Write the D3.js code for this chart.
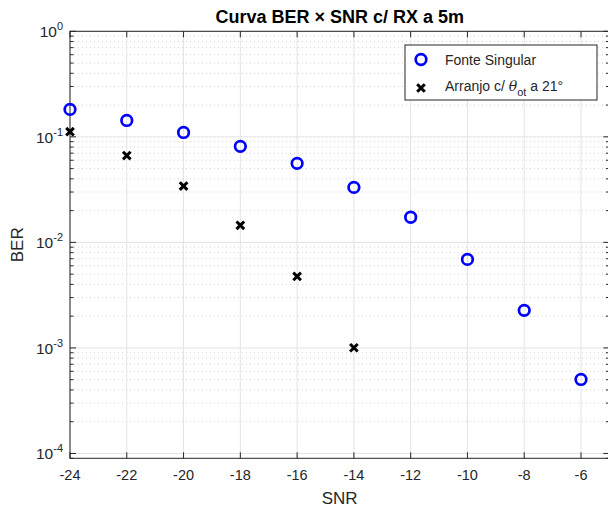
<!DOCTYPE html>
<html>
<head>
<meta charset="utf-8">
<script src="https://cdn.jsdelivr.net/npm/d3@7"></script>
<style>
  body { margin: 0; background: #fff; }
  text { font-family: "Liberation Sans", Arial, sans-serif; fill: #262626; }
</style>
</head>
<body>
<div id="chart"></div>
<script>
// dados
const snr = [-24, -22, -20, -18, -16, -14, -12, -10, -8, -6];
const berSingular = [0.182, 0.143, 0.110, 0.0813, 0.0561, 0.0332, 0.0173, 0.0069, 0.00227, 0.000503];
const snrArranjo = [-24, -22, -20, -18, -16, -14];
const berArranjo = [0.112, 0.0664, 0.0342, 0.0145, 0.00476, 0.001004];
const xTicks = [-24, -22, -20, -18, -16, -14, -12, -10, -8, -6];
const yTickExp = [0, -1, -2, -3, -4];

const width = 608, height = 511;
const mLeft = 70, mRight = 609.4, mTop = 31.3, mBottom = 458.3;

const svg = d3.select("#chart").append("svg")
  .attr("width", width).attr("height", height);

const x = d3.scaleLinear().domain([-24, -5]).range([mLeft, mRight]);
const y = d3.scaleLog().domain([9e-5, 1]).range([mBottom, mTop]);

// ticks menores do eixo log
const minor = [];
for (let e = -5; e < 0; e++) {
  for (let k = 2; k <= 9; k++) {
    const v = k * Math.pow(10, e);
    if (v >= 9e-5 && v <= 1) minor.push(v);
  }
}

const g = svg.append("g");

// grade menor (pontilhada)
g.selectAll(".minor").data(minor).enter().append("line")
  .attr("x1", mLeft).attr("x2", mRight)
  .attr("y1", d => y(d)).attr("y2", d => y(d))
  .attr("stroke", "#d2d2d2").attr("stroke-width", 1)
  .attr("stroke-dasharray", "1,3");

// grade principal
g.selectAll(".gx").data(xTicks).enter().append("line")
  .attr("x1", d => x(d)).attr("x2", d => x(d))
  .attr("y1", mTop).attr("y2", mBottom)
  .attr("stroke", "#e3e3e3").attr("stroke-width", 1);
g.selectAll(".gy").data(yTickExp).enter().append("line")
  .attr("x1", mLeft).attr("x2", mRight)
  .attr("y1", d => y(Math.pow(10, d))).attr("y2", d => y(Math.pow(10, d)))
  .attr("stroke", "#e3e3e3").attr("stroke-width", 1);

// moldura
const axColor = "#262626";
g.append("rect").attr("x", mLeft).attr("y", mTop)
  .attr("width", mRight - mLeft).attr("height", mBottom - mTop)
  .attr("fill", "none").attr("stroke", axColor).attr("stroke-width", 1);

// ticks x (baixo e cima, para dentro)
xTicks.forEach(t => {
  g.append("line").attr("x1", x(t)).attr("x2", x(t)).attr("y1", mBottom).attr("y2", mBottom - 6)
    .attr("stroke", axColor);
  g.append("line").attr("x1", x(t)).attr("x2", x(t)).attr("y1", mTop).attr("y2", mTop + 6)
    .attr("stroke", axColor);
});
// ticks y
yTickExp.forEach(e => {
  const yy = y(Math.pow(10, e));
  g.append("line").attr("x1", mLeft).attr("x2", mLeft + 6).attr("y1", yy).attr("y2", yy).attr("stroke", axColor);
  g.append("line").attr("x1", mRight).attr("x2", mRight - 6).attr("y1", yy).attr("y2", yy).attr("stroke", axColor);
});
minor.forEach(v => {
  const yy = y(v);
  g.append("line").attr("x1", mLeft).attr("x2", mLeft + 3.5).attr("y1", yy).attr("y2", yy).attr("stroke", axColor);
  g.append("line").attr("x1", mRight).attr("x2", mRight - 3.5).attr("y1", yy).attr("y2", yy).attr("stroke", axColor);
});

// rótulos dos ticks
svg.selectAll(".xl").data(xTicks).enter().append("text")
  .attr("x", d => x(d)).attr("y", mBottom + 22)
  .attr("text-anchor", "middle").attr("font-size", 14.5)
  .text(d => d);

const yl = svg.selectAll(".yl").data(yTickExp).enter().append("text")
  .attr("x", mLeft - 7).attr("y", d => y(Math.pow(10, d)) + 6)
  .attr("text-anchor", "end").attr("font-size", 15.5);
yl.append("tspan").text("10");
yl.append("tspan").attr("dy", -7).attr("font-size", 11).text(d => d === 0 ? "0" : "-" + (-d));

// títulos
svg.append("text").attr("x", (mLeft + mRight) / 2).attr("y", 23)
  .attr("text-anchor", "middle").attr("font-size", 18).attr("font-weight", "bold")
  .style("fill", "#000")
  .text("Curva BER \u00d7 SNR c/ RX a 5m");
svg.append("text").attr("x", (mLeft + mRight) / 2).attr("y", 504)
  .attr("text-anchor", "middle").attr("font-size", 17).text("SNR");
svg.append("text").attr("transform", `translate(23,${(mTop + mBottom) / 2}) rotate(-90)`)
  .attr("text-anchor", "middle").attr("font-size", 17).text("BER");

// marcadores
const cross = (sel, s) => sel.append("path")
  .attr("d", `M${-s},${-s}L${s},${s}M${-s},${s}L${s},${-s}`)
  .attr("stroke", "#000").attr("stroke-width", 3).attr("fill", "none");

svg.append("g").selectAll("circle").data(snr.map((s, i) => [s, berSingular[i]])).enter()
  .append("circle")
  .attr("cx", d => x(d[0])).attr("cy", d => y(d[1])).attr("r", 5.3)
  .attr("fill", "none").attr("stroke", "#0000ff").attr("stroke-width", 2.7);

svg.append("g").selectAll("g").data(snrArranjo.map((s, i) => [s, berArranjo[i]])).enter()
  .append("g")
  .attr("transform", d => `translate(${x(d[0])},${y(d[1])})`)
  .each(function () { cross(d3.select(this), 3.8); });

// legenda
const lg = svg.append("g");
lg.append("rect").attr("x", 405).attr("y", 45).attr("width", 192).attr("height", 55)
  .attr("fill", "#fff").attr("stroke", axColor).attr("stroke-width", 1);
lg.append("circle").attr("cx", 421).attr("cy", 59.5).attr("r", 5.3)
  .attr("fill", "none").attr("stroke", "#0000ff").attr("stroke-width", 2.7);
cross(lg.append("g").attr("transform", "translate(421,88)"), 3.8);
lg.append("text").attr("x", 445).attr("y", 65).attr("font-size", 14).text("Fonte Singular");
const t2 = lg.append("text").attr("x", 445).attr("y", 91).attr("font-size", 14);
t2.append("tspan").text("Arranjo c/ ");
t2.append("tspan").attr("font-style", "italic").attr("font-family", "DejaVu Serif, serif").text("\u03b8");
t2.append("tspan").attr("dy", 5).attr("font-size", 11).text("ot");
t2.append("tspan").attr("dy", -5).text(" a 21\u00b0");
</script>
</body>
</html>
